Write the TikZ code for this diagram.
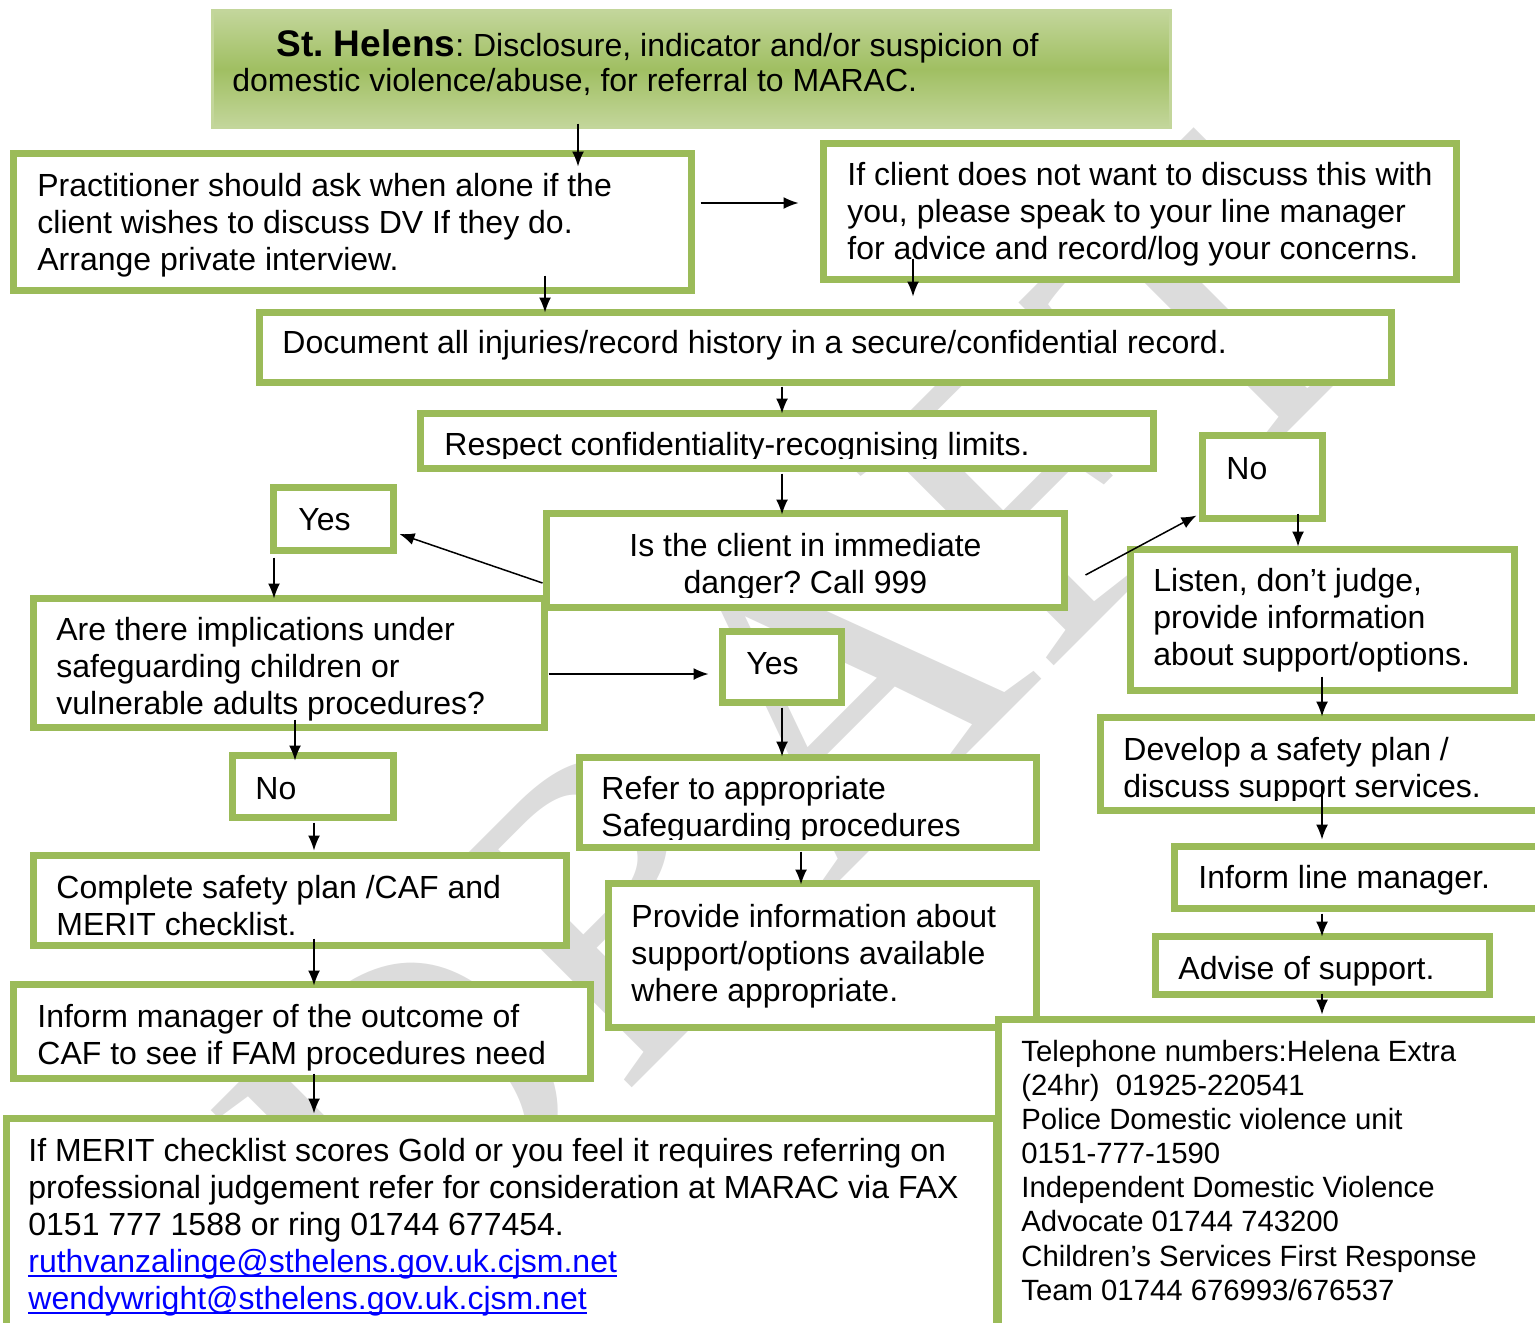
\documentclass[tikz,border=0pt]{standalone}
\usepackage{fontspec}
\setmainfont{Liberation Sans}
\newfontfamily\wmfont{Liberation Serif}
\usetikzlibrary{arrows.meta,fit,calc}
\frenchspacing

\definecolor{boxgreen}{HTML}{9BBB59}
\definecolor{titlelight}{HTML}{C3D69B}
\definecolor{titledark}{HTML}{A0BF62}
\definecolor{wmgray}{HTML}{DCDCDC}
\definecolor{linkblue}{HTML}{0000FF}

\tikzset{
  box/.style={draw=boxgreen, line width=3.5pt, fill=white, inner sep=0pt},
  titlebox/.style={draw=titlelight, line width=1.5pt, inner sep=0pt,
    top color=titlelight, bottom color=titlelight, middle color=titledark},
  txt/.style={inner sep=0pt, anchor=north west, align=left,
    font=\fontsize{16pt}{18.5pt}\selectfont},
  smalltxt/.style={txt, font=\fontsize{14.65pt}{17.05pt}\selectfont},
  arr/.style={line width=0.75pt, -{Latex[length=7.5pt,width=6pt]}},
}

% box given by its outer edges (left, top, right, bottom) in pixel units
\newcommand\flowbox[5]{\node[box, fit={(#2+3.5,#3+3.5) (#4-3.5,#5-3.5)}] (#1) {};}
% vertical connector: from #1 (south) to #2 (north) at x=#3, with end offsets
\newcommand\vlink[5]{\draw[arr] ($(#1.south -| #3,0)+(0,#4)$) -- ($(#2.north -| #3,0)+(0,#5)$);}
\newcommand\lstrut{\rule{0pt}{12pt}}
\newcommand\mailto[1]{\setbox0\hbox{#1}\rlap{\rule[-2.2pt]{\wd0}{0.9pt}}\box0}

\begin{document}
\begin{tikzpicture}[x=0.5pt, y=-0.5pt]
\useasboundingbox (0,0) rectangle (1535,1322);
\clip (0,0) rectangle (1535,1322);

% watermark
\node[rotate=45, text=wmgray, inner sep=0pt,
  font=\wmfont\fontsize{215pt}{215pt}\selectfont] (wm) at (800,720) {DRAFT};

% heading box
\node[titlebox, fit={(212.5,10.5) (1170.5,127.5)}] (title) {};
\node[txt, font=\fontsize{16pt}{17.5pt}\selectfont] (titleT) at (232,28)
  {\rule{0pt}{14pt}\hspace*{22pt}{\fontsize{18.5pt}{17.5pt}\selectfont\bfseries St. Helens}: Disclosure, indicator and/or suspicion of\\
   domestic violence/abuse, for referral to MARAC.};

% boxes
\flowbox{prac}{10}{150}{695}{294}
\flowbox{notwant}{820}{140}{1460}{283}
\flowbox{doc}{256}{309}{1395}{386}
\flowbox{respect}{417}{410}{1157}{472}
\flowbox{isclient}{543}{510}{1068}{611}
\flowbox{yes1}{270}{484}{397}{554}
\flowbox{implic}{30}{595}{548}{731}
\flowbox{yes2}{719}{628}{845}{706}
\flowbox{refer}{576}{754}{1040}{851}
\flowbox{provide}{605}{880}{1040}{1031}
\flowbox{no1}{229}{752}{397}{821}
\flowbox{complete}{30}{852}{570}{949}
\flowbox{informmgr}{10}{981}{594}{1082}
\flowbox{bottom}{3}{1115}{1000}{1348}
\flowbox{no2}{1199}{432}{1326}{522}
\flowbox{listen}{1127}{546}{1518}{694}
\flowbox{develop}{1097}{714}{1563}{814}
\flowbox{informline}{1171}{843}{1563}{912}
\flowbox{advise}{1152}{933}{1493}{998}
\flowbox{tel}{995}{1016}{1563}{1348}

% box texts
\node[txt] (pracT) at (37,172) {\lstrut Practitioner should ask when alone if the\\client wishes to discuss DV If they do.\\Arrange private interview.};
\node[txt] (notwantT) at (847,161) {\lstrut If client does not want to discuss this with\\you, please speak to your line manager\\for advice and record/log your concerns.};
\node[txt] (docT) at (282,329) {\lstrut Document all injuries/record history in a secure/confidential record.};
\begin{scope}
  \clip (420,410) rectangle (1150,458);
  \node[txt] (respectT) at (444,431) {\lstrut Respect confidentiality-recognising limits.};
\end{scope}
\begin{scope}
  \clip (550,515) rectangle (1060,597);
  \node[txt, anchor=north, align=center] (isclientT) at (805.5,532) {\lstrut Is the client in immediate\\danger? Call 999};
\end{scope}
\node[txt] (yes1T) at (298,506) {\lstrut Yes};
\node[txt] (implicT) at (56,616) {\lstrut Are there implications under\\safeguarding children or\\vulnerable adults procedures?};
\node[txt] (yes2T) at (746,650) {\lstrut Yes};
\begin{scope}
  \clip (580,757) rectangle (1036,839);
  \node[txt] (referT) at (601,775) {\lstrut Refer to appropriate\\Safeguarding procedures};
\end{scope}
\node[txt] (provideT) at (631,903) {\lstrut Provide information about\\support/options available\\where appropriate.};
\node[txt] (no1T) at (255,775) {\lstrut No};
\node[txt] (completeT) at (56,874) {\lstrut Complete safety plan /CAF and\\MERIT checklist.};
\node[txt] (informmgrT) at (37,1003) {\lstrut Inform manager of the outcome of\\CAF to see if FAM procedures need};
\node[txt] (bottomT) at (28,1137) {\lstrut If MERIT checklist scores Gold or you feel it requires referring on\\
  professional judgement refer for consideration at MARAC via FAX\\
  0151 777 1588 or ring 01744 677454.\\
  \textcolor{linkblue}{\mailto{ruthvanzalinge@sthelens.gov.uk.cjsm.net}}\\
  \textcolor{linkblue}{\mailto{wendywright@sthelens.gov.uk.cjsm.net}}};
\node[txt] (no2T) at (1226,455) {\lstrut No};
\node[txt] (listenT) at (1153,567) {\lstrut Listen, don’t judge,\\provide information\\about support/options.};
\begin{scope}
  \clip (1100,717) rectangle (1535,800);
  \node[txt] (developT) at (1123,736) {\lstrut Develop a safety plan /\\discuss support services.};
\end{scope}
\node[txt] (informlineT) at (1198,864) {\lstrut Inform line manager.};
\node[txt] (adviseT) at (1178,955) {\lstrut Advise of support.};
\node[smalltxt] (telT) at (1021,1037) {\lstrut Telephone numbers:Helena Extra\\
  (24hr)\ \ 01925-220541\\
  Police Domestic violence unit\\
  0151-777-1590\\
  Independent Domestic Violence\\
  Advocate 01744 743200\\
  Children’s Services First Response\\
  Team 01744 676993/676537};

% connectors
\vlink{title}{prac}{578}{-5.5}{16.5}
\draw[arr] ($(prac.east |- 0,203)+(5.5,0)$) -- ($(notwant.west |- 0,203)+(-21.5,0)$);
\vlink{notwant}{doc}{913}{-24.5}{-12.5}
\vlink{prac}{doc}{545}{-18.5}{3.5}
\vlink{doc}{respect}{782}{0.5}{3.5}
\vlink{respect}{isclient}{782}{1.5}{4.5}
\draw[arr] ($(isclient.west)+(-0.5,22.5)$) -- ($(yes1.east)+(2.5,15)$);
\vlink{yes1}{implic}{274}{3.5}{3.5}
\draw[arr] ($(implic.east |- 0,674)+(0.5,0)$) -- ($(yes2.west |- 0,674)+(-10.5,0)$);
\vlink{yes2}{refer}{782}{1.5}{2.5}
\vlink{refer}{provide}{801}{0.5}{4.5}
\vlink{implic}{no1}{295}{-11.5}{8.5}
\vlink{no1}{complete}{314}{1.5}{-1.5}
\vlink{complete}{informmgr}{314}{-10.5}{4.5}
\vlink{informmgr}{bottom}{314}{-8.5}{-1.5}
\draw[arr] ($(isclient.east)+(17.5,14.5)$) -- ($(no2.south west)+(-2.5,-6.5)$);
\vlink{no2}{listen}{1298}{-8.5}{0.5}
\vlink{listen}{develop}{1322}{-17.5}{2.5}
\vlink{develop}{informline}{1322}{-28.5}{-3.5}
\vlink{informline}{advise}{1322}{1.5}{3.5}
\vlink{advise}{tel}{1322}{-4.5}{-1.5}
\end{tikzpicture}
\end{document}
